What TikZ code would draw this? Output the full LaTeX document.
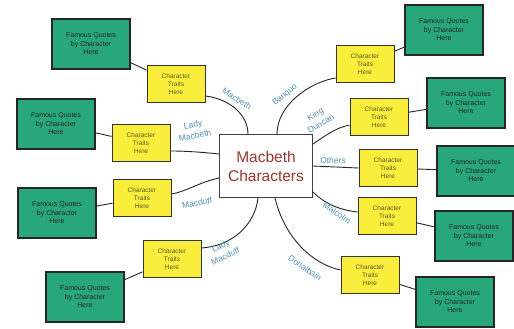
\documentclass[tikz,border=0pt]{standalone}
\usepackage{fontspec}
\setmainfont{Liberation Sans}
\usepackage{xcolor}
\usetikzlibrary{positioning,calc}

\definecolor{quotegreen}{RGB}{40,168,120}
\definecolor{traityellow}{RGB}{250,238,60}
\definecolor{namecol}{RGB}{80,145,175}
\definecolor{hubred}{RGB}{150,55,45}

\tikzset{
  quotebox/.style={draw=black!85,line width=1.3pt,fill=quotegreen,minimum width=78pt,minimum height=50pt,
    align=center,font=\fontsize{7}{8.5}\selectfont,text=black!85},
  traitbox/.style={draw=black!80,line width=1pt,fill=traityellow,minimum width=58pt,minimum height=37pt,
    align=center,font=\fontsize{6.5}{7.8}\selectfont,text=olive!55!black},
  hubbox/.style={draw=black!75,line width=0.9pt,fill=white,minimum width=93pt,minimum height=63pt,
    align=center,font=\fontsize{15.5}{19}\selectfont,text=hubred},
  namelabel/.style={text=namecol,font=\fontsize{8.5}{11}\selectfont,align=center,inner sep=1pt},
  link/.style={draw=black!85,line width=0.9pt}
}

\begin{document}
\begin{tikzpicture}[x=1pt,y=-1pt]
\useasboundingbox (0,0) rectangle (514,329);
% centre
\node[hubbox] (hub) at (266,166) {Macbeth\\Characters};
% trait boxes and quote boxes
\foreach \n/\tx/\ty/\qx/\qy in {
  1/176/84/91/44, 2/141/143/56/124, 3/142/198/57/213, 4/172/259/85/297,
  5/365/64/444/30, 6/379/117/466/103, 7/388/168/476/171, 8/387/216/474/236, 9/370/275/455/302}
{
  \node[quotebox] (q\n) at (\qx,\qy) {Famous Quotes\\by Character\\Here};
  \node[traitbox] (t\n) at (\tx,\ty) {Character\\Traits\\Here};
  \draw[link] (t\n) -- (q\n);
}
% branches from the centre
\draw[link] ($(hub.north)+(-18,0)$) .. controls (248,115) and (230,99) .. ($(t1.east)+(0,12)$);
\draw[link] ($(hub.west)+(0,-12)$) .. controls (200,152) and (185,151) .. ($(t2.east)+(0,8)$);
\draw[link] ($(hub.west)+(0,12)$) .. controls (200,182) and (185,192) .. ($(t3.east)+(0,-4)$);
\draw[link] ($(hub.south)+(-8,0)$) .. controls (255,225) and (232,246) .. ($(t4.east)+(0,-11)$);
\draw[link] ($(hub.north)+(11,0)$) .. controls (277,105) and (310,82) .. ($(t5.west)+(0,14)$);
\draw[link] ($(hub.east)+(0,-22)$) .. controls (325,136) and (335,128) .. ($(t6.west)+(0,8)$);
\draw[link] (hub.east) -- (t7.west);
\draw[link] ($(hub.east)+(0,26)$) .. controls (325,204) and (340,210) .. ($(t8.west)+(0,-4)$);
\draw[link] ($(hub.south)+(9,0)$) .. controls (285,240) and (315,265) .. ($(t9.west)+(0,-5)$);
% character names
\node[namelabel,rotate=-32] (nMacbeth) at (237,99) {Macbeth};
\node[namelabel,rotate=10] (nLadyMacbeth) at (194,130) {Lady\\Macbeth};
\node[namelabel,rotate=10] (nMacduff) at (197,203) {Macduff};
\node[namelabel,rotate=25] (nLadyMacduff) at (223,251) {Lady\\Macduff};
\node[namelabel,rotate=40] (nBanquo) at (285,95) {Banquo};
\node[namelabel,rotate=30] (nDuncan) at (318,119) {King\\Duncan};
\node[namelabel] (nOthers) at (333,160) {Others};
\node[namelabel,rotate=-35] (nMalcolm) at (337,213) {Malcolm};
\node[namelabel,rotate=-35] (nDonalbain) at (305,268) {Donalbain};
\end{tikzpicture}
\end{document}
